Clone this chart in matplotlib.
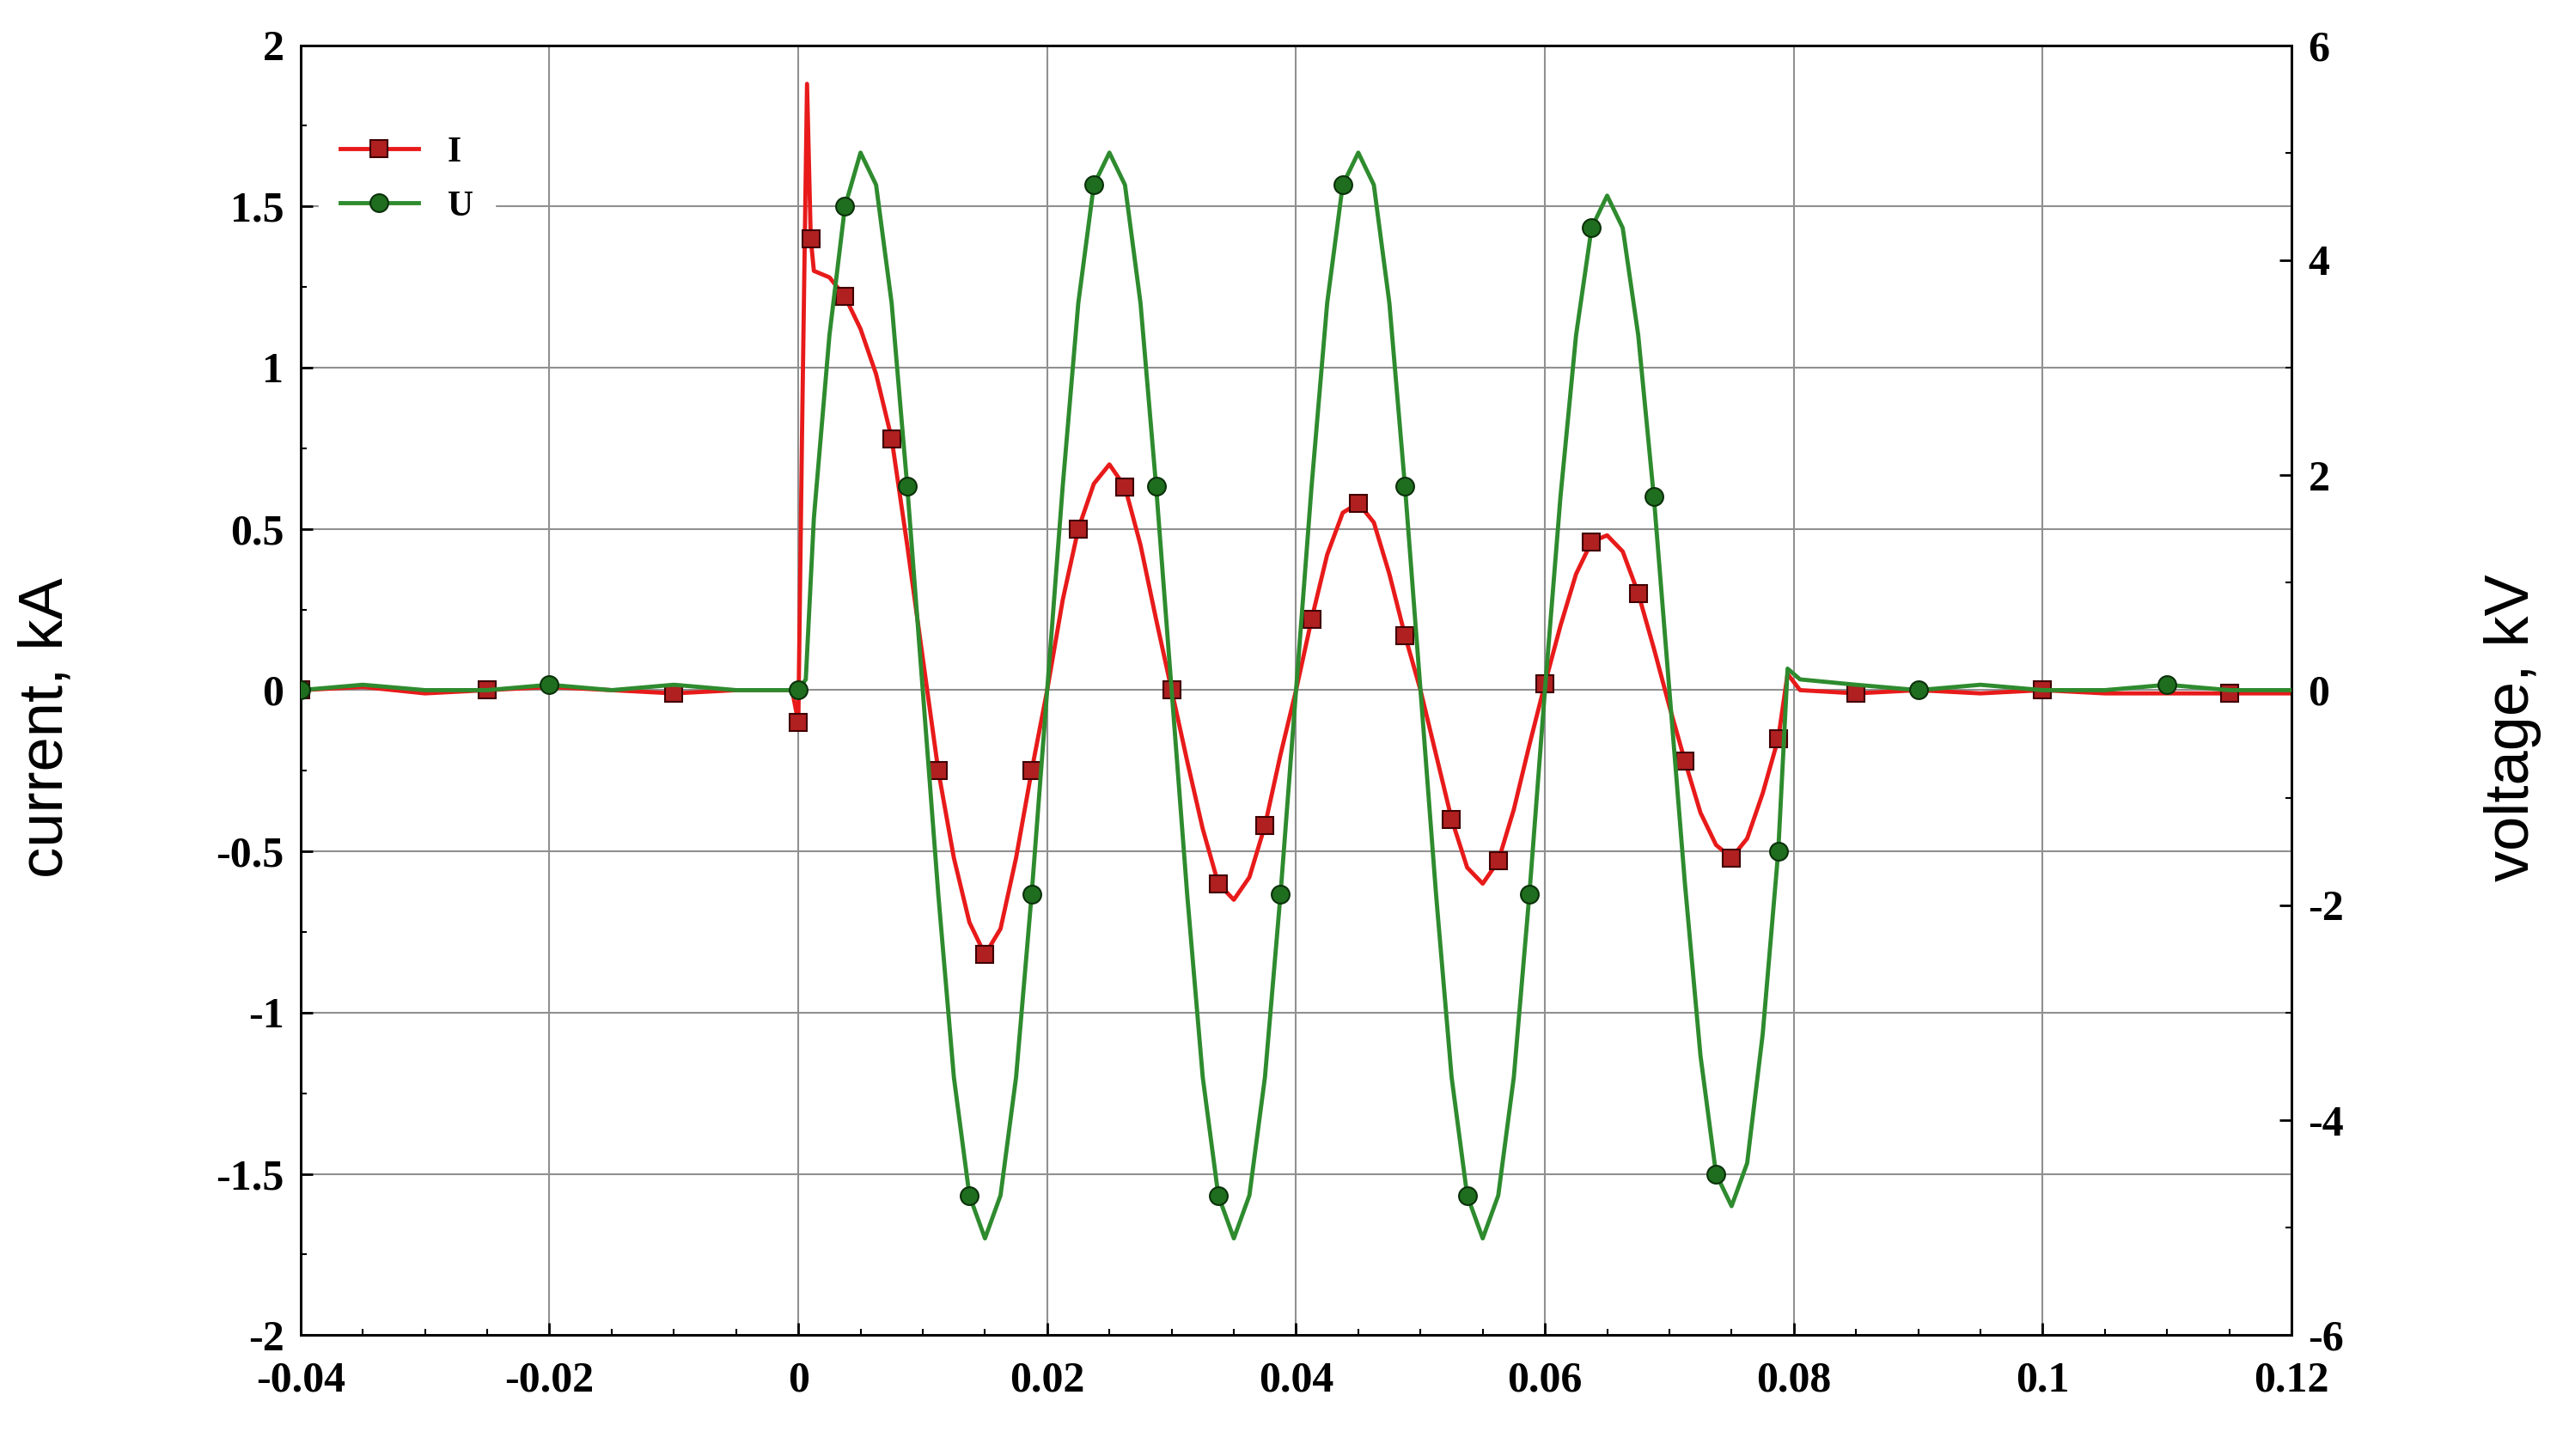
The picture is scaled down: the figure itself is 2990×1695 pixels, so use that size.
import matplotlib

matplotlib.use("Agg")
import matplotlib.pyplot as plt
import numpy as np

plt.rcParams["axes.unicode_minus"] = False

# current trace (kA)
t_i = [-0.04, -0.035, -0.03, -0.025, -0.02, -0.015, -0.01, -0.005, -0.0005, 0.0,
       0.0003, 0.0007, 0.001, 0.00125, 0.0025, 0.00375, 0.005, 0.00625, 0.0075, 0.00875,
       0.01, 0.01125, 0.0125, 0.01375, 0.015, 0.01625, 0.0175, 0.01875,
       0.02, 0.02125, 0.0225, 0.02375, 0.025, 0.02625, 0.0275, 0.02875,
       0.03, 0.03125, 0.0325, 0.03375, 0.035, 0.03625, 0.0375, 0.03875,
       0.04, 0.04125, 0.0425, 0.04375, 0.045, 0.04625, 0.0475, 0.04875,
       0.05, 0.05125, 0.0525, 0.05375, 0.055, 0.05625, 0.0575, 0.05875,
       0.06, 0.06125, 0.0625, 0.06375, 0.065, 0.06625, 0.0675, 0.06875,
       0.07, 0.07125, 0.0725, 0.07375, 0.075, 0.07625, 0.0775, 0.07875, 0.0795,
       0.0805, 0.085, 0.09, 0.095, 0.1, 0.105, 0.11, 0.115, 0.12]
i_vals = [0.0, 0.01, -0.01, 0.0, 0.01, 0.0, -0.01, 0.0, 0.0, -0.1,
          0.8, 1.88, 1.4, 1.3, 1.28, 1.22, 1.12, 0.98, 0.78, 0.45,
          0.1, -0.25, -0.52, -0.72, -0.82, -0.74, -0.52, -0.25,
          0.0, 0.28, 0.5, 0.64, 0.7, 0.63, 0.45, 0.22,
          0.0, -0.22, -0.43, -0.6, -0.65, -0.58, -0.42, -0.2,
          0.0, 0.22, 0.42, 0.55, 0.58, 0.52, 0.36, 0.17,
          0.0, -0.2, -0.4, -0.55, -0.6, -0.53, -0.37, -0.17,
          0.02, 0.2, 0.36, 0.46, 0.48, 0.43, 0.3, 0.13,
          -0.05, -0.22, -0.38, -0.48, -0.52, -0.46, -0.32, -0.15, 0.05,
          0.0, -0.01, 0.0, -0.01, 0.0, -0.01, -0.01, -0.01, -0.01]

# voltage trace (kV)
t_u = [-0.04, -0.035, -0.03, -0.025, -0.02, -0.015, -0.01, -0.005, 0.0, 0.0006,
       0.00125, 0.0025, 0.00375, 0.005, 0.00625, 0.0075, 0.00875,
       0.01, 0.01125, 0.0125, 0.01375, 0.015, 0.01625, 0.0175, 0.01875,
       0.02, 0.02125, 0.0225, 0.02375, 0.025, 0.02625, 0.0275, 0.02875,
       0.03, 0.03125, 0.0325, 0.03375, 0.035, 0.03625, 0.0375, 0.03875,
       0.04, 0.04125, 0.0425, 0.04375, 0.045, 0.04625, 0.0475, 0.04875,
       0.05, 0.05125, 0.0525, 0.05375, 0.055, 0.05625, 0.0575, 0.05875,
       0.06, 0.06125, 0.0625, 0.06375, 0.065, 0.06625, 0.0675, 0.06875,
       0.07, 0.07125, 0.0725, 0.07375, 0.075, 0.07625, 0.0775, 0.07875,
       0.0795, 0.0805, 0.085, 0.09, 0.095, 0.1, 0.105, 0.11, 0.115, 0.12]
u_vals = [0.0, 0.05, 0.0, 0.0, 0.05, 0.0, 0.05, 0.0, 0.0, 0.1,
          1.6, 3.3, 4.5, 5.0, 4.7, 3.6, 1.9,
          0.0, -1.9, -3.6, -4.7, -5.1, -4.7, -3.6, -1.9,
          0.0, 1.9, 3.6, 4.7, 5.0, 4.7, 3.6, 1.9,
          0.0, -1.9, -3.6, -4.7, -5.1, -4.7, -3.6, -1.9,
          0.0, 1.9, 3.6, 4.7, 5.0, 4.7, 3.6, 1.9,
          0.0, -1.9, -3.6, -4.7, -5.1, -4.7, -3.6, -1.9,
          0.0, 1.8, 3.3, 4.3, 4.6, 4.3, 3.3, 1.8,
          0.0, -1.8, -3.4, -4.5, -4.8, -4.4, -3.2, -1.5,
          0.2, 0.1, 0.05, 0.0, 0.05, 0.0, 0.0, 0.05, 0.0, 0.0]

RED = "#e81a1a"
GREEN = "#2e8b2e"
serif = ["Liberation Serif", "DejaVu Serif"]

fig = plt.figure(figsize=(29.9, 16.95), dpi=100)
ax = fig.add_axes([0.117, 0.083, 0.775, 0.886])
ax2 = ax.twinx()

l_i, = ax.plot(t_i, i_vals, color=RED, lw=3.5, marker="s", markersize=14,
               markerfacecolor="#b02020", markeredgecolor="#400000", markeredgewidth=1.5,
               markevery=3, label="I", zorder=3)
l_u, = ax2.plot(t_u, u_vals, color=GREEN, lw=3.5, marker="o", markersize=15,
                markerfacecolor="#1f6e1f", markeredgecolor="#0a300a", markeredgewidth=1.5,
                markevery=4, label="U", zorder=3)

ax.set_xlim(-0.04, 0.12)
ax.set_ylim(-2, 2)
ax2.set_ylim(-6, 6)
ax.set_xticks(np.arange(-0.04, 0.121, 0.02))
ax.set_xticklabels(["-0.04", "-0.02", "0", "0.02", "0.04", "0.06", "0.08", "0.1", "0.12"])
ax.set_yticks(np.arange(-2, 2.01, 0.5))
ax.set_yticklabels(["-2", "-1.5", "-1", "-0.5", "0", "0.5", "1", "1.5", "2"])
ax2.set_yticks(np.arange(-6, 6.1, 2))
ax2.set_yticks(np.arange(-6, 6.1, 1), minor=True)
ax.set_xticks(np.arange(-0.04, 0.121, 0.005), minor=True)
ax.set_yticks(np.arange(-2, 2.01, 0.25), minor=True)

ax.grid(True, which="major", color="#909090", lw=1.5)
for a in (ax, ax2):
    a.tick_params(which="major", length=10, width=2, direction="in", labelsize=36, pad=14)
    a.tick_params(which="minor", length=5, width=1.5, direction="in")
    for lab in a.get_xticklabels() + a.get_yticklabels():
        lab.set_family(serif)
        lab.set_fontweight("bold")
    for s in a.spines.values():
        s.set_linewidth(2)
ax.tick_params(axis="x", which="major", pad=22)

fig.text(0.018, 0.5, "current, kA", rotation=90, va="center", ha="center",
         fontsize=52, family="Liberation Sans")
fig.text(0.978, 0.5, "voltage, kV", rotation=90, va="center", ha="center",
         fontsize=52, family="Liberation Sans")

leg = ax.legend([l_i, l_u], ["I", "U"], loc="upper left", bbox_to_anchor=(0.0, 0.96),
                frameon=True, fancybox=False, edgecolor="white", framealpha=1,
                prop={"family": serif, "weight": "bold", "size": 30}, handlelength=2.2,
                borderpad=0.6, labelspacing=0.6)
leg.set_zorder(5)

fig.savefig("out.png", dpi=100)
